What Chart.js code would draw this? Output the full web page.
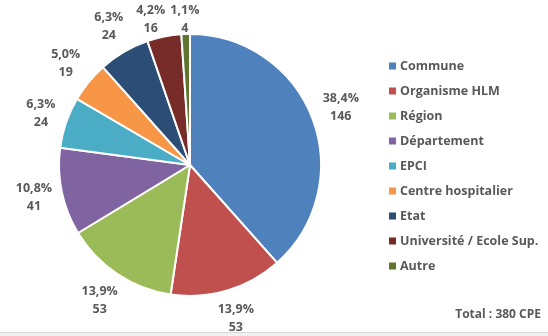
<!DOCTYPE html>
<html>
<head>
<meta charset="utf-8">
<script src="https://cdn.jsdelivr.net/npm/chart.js@4.4.1/dist/chart.umd.min.js"></script>
<style>
  html, body { margin: 0; padding: 0; background: #ffffff; }
  #wrap { position: relative; width: 548px; height: 336px; }
  #footer { position: absolute; left: 0; top: 332px; width: 548px; height: 4px; background: #f0f0f0; border-top: 1px solid #d9d9d9; box-sizing: border-box; }
</style>
</head>
<body>
<div id="wrap">
  <canvas id="c" width="548" height="336"></canvas>
  <div id="footer"></div>
</div>
<script>
const categories = ["Commune", "Organisme HLM", "Région", "Département", "EPCI", "Centre hospitalier", "Etat", "Université / Ecole Sup.", "Autre"];
const values = [146, 53, 53, 41, 24, 19, 24, 16, 4];
const percentLabels = ["38,4%", "13,9%", "13,9%", "10,8%", "6,3%", "5,0%", "6,3%", "4,2%", "1,1%"];
const colors = ["#4F81BD", "#C0504D", "#9BBB59", "#8064A2", "#4BACC6", "#F79646", "#2C4D75", "#772C2A", "#5F7530"];
const totalText = "Total : 380 CPE";

const FONT = "'Open Sans', 'DejaVu Sans', sans-serif";
const TEXT_COLOR = "#595959";

const extrasPlugin = {
  id: 'extras',
  afterDraw(chart) {
    const ctx = chart.ctx;
    const meta = chart.getDatasetMeta(0);
    ctx.save();
    // data labels
    ctx.font = "bold 12.5px " + FONT;
    ctx.fillStyle = TEXT_COLOR;
    ctx.textAlign = "center";
    ctx.textBaseline = "middle";
    const lineH = 18;
    const boxes = meta.data.map((arc, i) => {
      const p = arc.getProps(['x', 'y', 'startAngle', 'endAngle', 'outerRadius'], true);
      const mid = (p.startAngle + p.endAngle) / 2;
      const l1 = percentLabels[i];
      const l2 = String(chart.data.datasets[0].data[i]);
      const w = Math.max(ctx.measureText(l1).width, ctx.measureText(l2).width);
      const h = lineH * 2;
      const off = 7 + Math.abs(Math.cos(mid)) * w / 2 + Math.abs(Math.sin(mid)) * h / 2;
      let cx = p.x + Math.cos(mid) * (p.outerRadius + off);
      let cy = p.y + Math.sin(mid) * (p.outerRadius + off);
      if (cy - h / 2 < 1) cy = 1 + h / 2;
      return { l1, l2, w, h, cx, cy, mid };
    });
    // resolve overlaps (walk backwards, push earlier labels away)
    for (let i = boxes.length - 2; i >= 0; i--) {
      const a = boxes[i], b = boxes[i + 1];
      const overlapY = Math.abs(a.cy - b.cy) < (a.h + b.h) / 2;
      const gap = 5;
      if (overlapY && a.cx + a.w / 2 + gap > b.cx - b.w / 2 && a.cx < b.cx) {
        a.cx = b.cx - b.w / 2 - gap - a.w / 2;
      }
    }
    boxes.forEach(b => {
      ctx.fillText(b.l1, b.cx, b.cy - lineH / 2);
      ctx.fillText(b.l2, b.cx, b.cy + lineH / 2);
    });
    // legend
    const lx = 389, ly = 66, pitch = 25;
    ctx.textAlign = "left";
    ctx.font = "bold 12.5px " + FONT;
    categories.forEach((name, i) => {
      const y = ly + i * pitch;
      ctx.fillStyle = colors[i];
      ctx.fillRect(lx, y - 3.5, 7, 7);
      ctx.fillStyle = TEXT_COLOR;
      ctx.fillText(name, lx + 11, y);
    });
    // total
    ctx.textAlign = "right";
    ctx.font = "bold 12px " + FONT;
    ctx.fillText(totalText, 541, 315);
    ctx.restore();
  }
};

new Chart(document.getElementById('c'), {
  type: 'pie',
  data: {
    labels: categories,
    datasets: [{
      data: values,
      backgroundColor: colors,
      borderColor: '#ffffff',
      borderWidth: 2
    }]
  },
  options: {
    responsive: false,
    animation: false,
    layout: { padding: { left: 58, top: 33, right: 226, bottom: 39 } },
    plugins: {
      legend: { display: false },
      tooltip: { enabled: false }
    }
  },
  plugins: [extrasPlugin]
});
</script>
</body>
</html>
